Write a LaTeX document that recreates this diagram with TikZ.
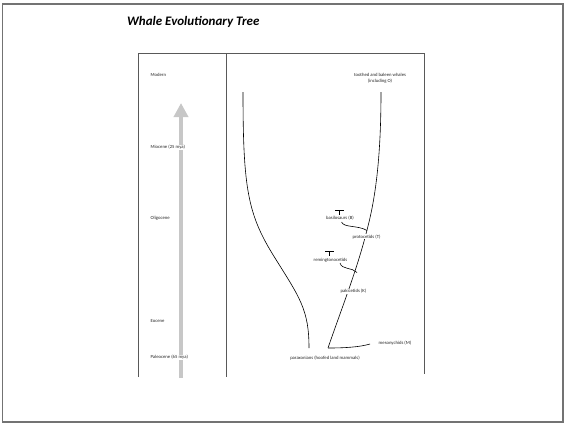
\documentclass[tikz,border=0pt]{standalone}
\usepackage{fontspec}
\setmainfont{Carlito}
\usetikzlibrary{arrows.meta}
\begin{document}
\begin{tikzpicture}[x=1pt,y=-1pt,
  lbl/.style={inner sep=0.4pt,fill=white,text=black!85,font=\fontsize{4.7}{5.6}\selectfont},
  era/.style={lbl,anchor=west},
  tree/.style={draw=black,line width=0.6pt},
  frame/.style={draw=black!65,line width=0.9pt},
  outer/.style={draw=black!55,line width=1.6pt}]
\useasboundingbox (0,0) rectangle (564,424);
% outer frame
\draw[outer] (2.5,4) rectangle (562.8,422);
% title
\node[anchor=west,font=\fontsize{13}{15}\selectfont\bfseries\itshape,inner sep=0] (title) at (127,22) {Whale Evolutionary Tree};
% inner frame
\coordinate (fl) at (138,53);
\coordinate (fr) at (424,53);
\draw[frame] (138,377) -- (fl) -- (fr) -- (424,374);
\draw[frame] (226,53) -- (226,377);
% time arrow
\coordinate (ab) at (181,378);
\coordinate (at) at (181,103);
\draw[draw=black!22,line width=3.8pt,-{Triangle[width=14pt,length=14pt]}] (ab) -- (at);
% eras
\node[era] (modern) at (150,75) {Modern};
\node[era] (mio) at (150,147) {Miocene (25 mya)};
\node[era] (oli) at (150,218) {Oligocene};
\node[era] (eoc) at (150,320.5) {Eocene};
\node[era] (pal) at (150,357.5) {Paleocene (65 mya)};
% tree curves
\coordinate (lt) at (243,92);
\coordinate (lm) at (275,258);
\coordinate (lb) at (309,348);
\draw[tree] (lt) .. controls (243,190) and (248,215) .. (lm) .. controls (300,298) and (309,310) .. (lb);
\coordinate (rt) at (381,92);
\coordinate (rm) at (367,230);
\coordinate (rb) at (328,348);
\draw[tree] (rt) .. controls (381,160) and (375,200) .. (rm) .. controls (357,270) and (341,310) .. (rb);
\coordinate (me) at (370,344);
\draw[tree] (rb) .. controls (345,348) and (360,347) .. (me);
% basilosaurs branch
\coordinate (bs) at (341.5,222);
\coordinate (bj) at (367,230.5);
\draw[tree] (bs) .. controls (344,228) and (358,225) .. (bj);
\draw[tree] (335,210) -- (343.5,210) (339.2,210) -- (339.2,214.5);
% remingtonocetids branch
\coordinate (rs) at (340,263);
\coordinate (rj) at (357,272.5);
\draw[tree] (rs) .. controls (342,270) and (352,267) .. (rj);
\draw[tree] (325,251.7) -- (333.5,251.7) (329.2,251.7) -- (329.2,256);
% labels
\node[lbl,align=center] (whales) at (380,78.5) {toothed and baleen whales\\(including O)};
\node[lbl] (basi) at (340,218) {basilosaurs (B)};
\node[lbl] (proto) at (366.5,236.7) {protocetids (T)};
\node[lbl] (rem) at (330.5,260) {remingtonocetids};
\node[lbl] (paki) at (353.5,291) {pakicetids (K)};
\node[lbl] (meso) at (395,343) {mesonychids (M)};
\node[lbl] (parax) at (325,358) {paraxonians (hoofed land mammals)};
\end{tikzpicture}
\end{document}
